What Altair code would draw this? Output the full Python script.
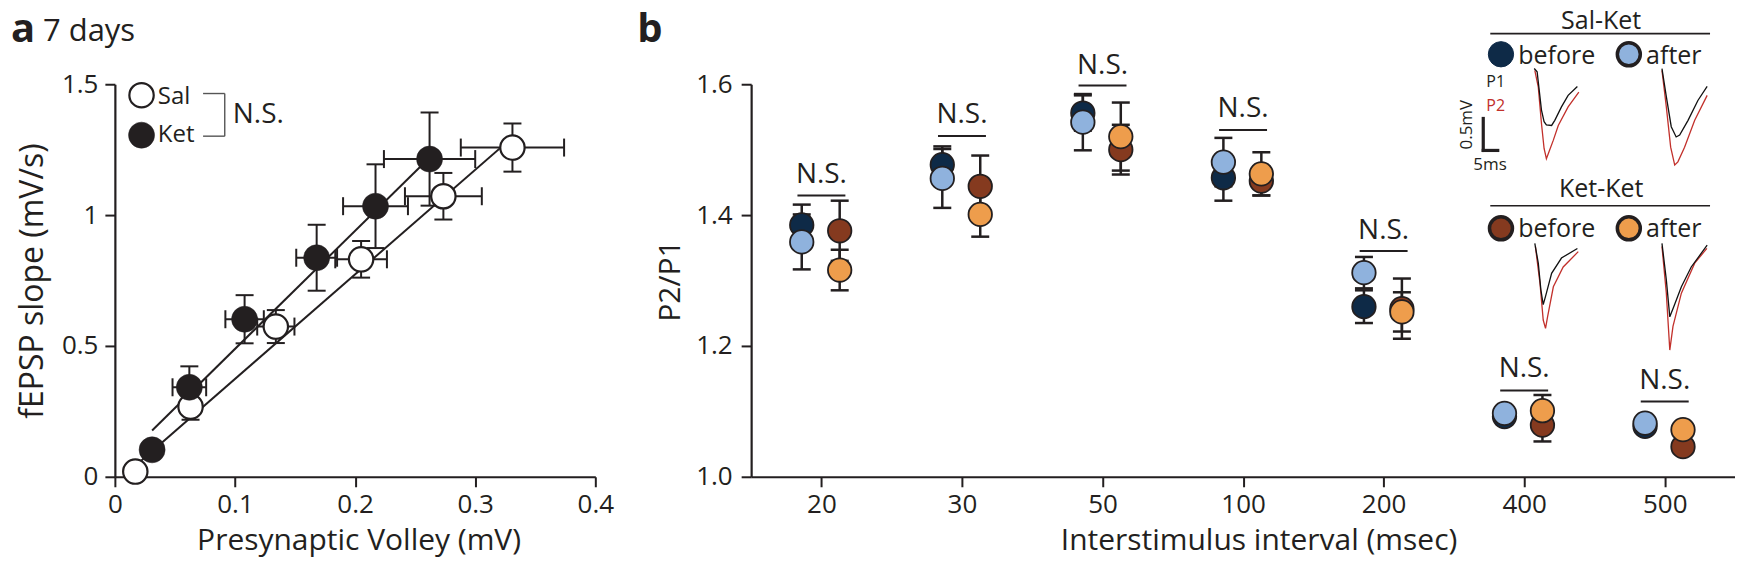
import altair as alt
import pandas as pd

FONT = "Open Sans"
INK = "#231f20"
RED = "#c2302b"

# ---------------- panel a : input-output ----------------
sal_pv = [0.017, 0.063, 0.134, 0.205, 0.2735, 0.331]
sal_pv_sem = [0.0, 0.005, 0.0155, 0.0215, 0.032, 0.043]
sal_slope = [0.020, 0.268, 0.574, 0.831, 1.072, 1.258]
sal_slope_sem = [0.0, 0.05, 0.063, 0.07, 0.089, 0.092]

ket_pv = [0.031, 0.062, 0.108, 0.168, 0.217, 0.262]
ket_pv_sem = [0.0, 0.014, 0.016, 0.017, 0.027, 0.038]
ket_slope = [0.103, 0.342, 0.602, 0.837, 1.034, 1.214]
ket_slope_sem = [0.0, 0.08, 0.092, 0.126, 0.16, 0.178]

sal_fit_pv = [0.019, 0.331]
sal_fit_slope = [0.05, 1.297]
ket_fit_pv = [0.031, 0.2585]
ket_fit_slope = [0.177, 1.204]

# ---------------- panel b : paired-pulse ratio ----------------
intervals = ["20", "30", "50", "100", "200", "400", "500"]
salket_before = [1.385, 1.477, 1.556, 1.457, 1.260, 1.092, 1.077]
salket_before_sem = [0.031, 0.028, 0.027, 0.035, 0.025, 0.005, 0.004]
salket_after = [1.359, 1.456, 1.542, 1.481, 1.312, 1.097, 1.082]
salket_after_sem = [0.042, 0.045, 0.043, 0.037, 0.024, 0.006, 0.005]
ketket_before = [1.376, 1.444, 1.500, 1.452, 1.257, 1.079, 1.046]
ketket_before_sem = [0.046, 0.047, 0.038, 0.022, 0.046, 0.025, 0.008]
ketket_after = [1.316, 1.401, 1.520, 1.463, 1.252, 1.101, 1.072]
ketket_after_sem = [0.031, 0.034, 0.052, 0.033, 0.030, 0.024, 0.008]
ns_bar_level = [1.430, 1.521, 1.598, 1.530, 1.345, 1.132, 1.115]
ns_text_level = [1.449, 1.540, 1.616, 1.550, 1.364, 1.153, 1.134]

series_names = ["Sal-Ket before", "Sal-Ket after", "Ket-Ket before", "Ket-Ket after"]
series_colors = ["#0e2a47", "#8fb2dd", "#853a1f", "#ee9d4c"]

# example traces (time in ms, amplitude in mV)
sk_before_p1_t = [0, 1.0, 2.5, 3.4, 4.2, 6.0, 7.1, 9.4, 11.7, 14.9]
sk_before_p1_mv = [0, -0.05, -0.65, -0.83, -0.88, -0.89, -0.81, -0.60, -0.42, -0.28]
sk_before_p2_t = [0.2, 1.4, 2.5, 3.4, 4.2, 5.1, 6.6, 8.3, 11.7, 15.4]
sk_before_p2_mv = [-0.03, -0.29, -0.86, -1.25, -1.41, -1.30, -1.12, -0.89, -0.60, -0.37]
sk_after_p1_t = [0, 1.5, 3.2, 4.9, 6.1, 9.0, 12.4, 15.6]
sk_after_p1_mv = [0, -0.44, -0.91, -1.07, -1.04, -0.81, -0.50, -0.28]
sk_after_p2_t = [0, 1.5, 3.0, 4.4, 5.5, 7.8, 11.3, 15.6]
sk_after_p2_mv = [-0.03, -0.60, -1.23, -1.51, -1.46, -1.23, -0.81, -0.42]
kk_before_p1_t = [0.2, 1.4, 2.3, 3.1, 3.9, 6.0, 9.4, 14.9]
kk_before_p1_mv = [0, -0.31, -0.73, -0.96, -0.83, -0.47, -0.23, -0.08]
kk_before_p2_t = [0.4, 2.0, 3.1, 3.9, 4.6, 6.6, 10.0, 15.2]
kk_before_p2_mv = [-0.05, -0.63, -1.20, -1.33, -1.15, -0.68, -0.37, -0.13]
kk_after_p1_t = [0, 1.5, 2.7, 4.1, 6.7, 10.1, 15.6]
kk_after_p1_mv = [0, -0.57, -1.15, -0.99, -0.68, -0.37, -0.03]
kk_after_p2_t = [0, 1.5, 2.7, 3.8, 6.7, 11.3, 15.5]
kk_after_p2_mv = [-0.05, -0.78, -1.67, -1.30, -0.78, -0.31, -0.08]

# ---------------- tables ----------------
def group_df(name, pv, pv_sem, sl, sl_sem):
    d = pd.DataFrame({"pv": pv, "pv_sem": pv_sem, "slope": sl, "slope_sem": sl_sem})
    d["group"] = name
    d["pv_lo"] = d.pv - d.pv_sem
    d["pv_hi"] = d.pv + d.pv_sem
    d["sl_lo"] = d.slope - d.slope_sem
    d["sl_hi"] = d.slope + d.slope_sem
    return d

df_a = pd.concat([group_df("Sal", sal_pv, sal_pv_sem, sal_slope, sal_slope_sem),
                  group_df("Ket", ket_pv, ket_pv_sem, ket_slope, ket_slope_sem)],
                 ignore_index=True)
df_fit = pd.concat([pd.DataFrame({"pv": sal_fit_pv, "slope": sal_fit_slope, "group": "Sal"}),
                    pd.DataFrame({"pv": ket_fit_pv, "slope": ket_fit_slope, "group": "Ket"})],
                   ignore_index=True)

OFFSET = {"Sal-Ket": -0.14, "Ket-Ket": 0.13}
rows = []
for name, vals, sems in zip(series_names,
                            [salket_before, salket_after, ketket_before, ketket_after],
                            [salket_before_sem, salket_after_sem, ketket_before_sem, ketket_after_sem]):
    grp = name.split(" ")[0]
    for i, (v, s) in enumerate(zip(vals, sems)):
        rows.append({"series": name, "idx": i, "xpos": i + OFFSET[grp], "ppr": v,
                     "lo": v - s, "hi": v + s})
df_b = pd.DataFrame(rows)
df_ns = pd.DataFrame({"idx": list(range(len(intervals))), "bar": ns_bar_level, "txt": ns_text_level})

COL_MS = 44.1   # horizontal spacing of the two trace columns (ms)
ROW_MV = 2.734  # vertical spacing of the two trace rows (mV)
trace_list = [
    ("sk_b_p1", "P1", 0, 0, sk_before_p1_t, sk_before_p1_mv),
    ("sk_b_p2", "P2", 0, 0, sk_before_p2_t, sk_before_p2_mv),
    ("sk_a_p1", "P1", 1, 0, sk_after_p1_t, sk_after_p1_mv),
    ("sk_a_p2", "P2", 1, 0, sk_after_p2_t, sk_after_p2_mv),
    ("kk_b_p1", "P1", 0, 1, kk_before_p1_t, kk_before_p1_mv),
    ("kk_b_p2", "P2", 0, 1, kk_before_p2_t, kk_before_p2_mv),
    ("kk_a_p1", "P1", 1, 1, kk_after_p1_t, kk_after_p1_mv),
    ("kk_a_p2", "P2", 1, 1, kk_after_p2_t, kk_after_p2_mv),
]
trows = []
for tid, pulse, col, row, ts, vs in trace_list:
    for k, (t, v) in enumerate(zip(ts, vs)):
        trows.append({"trace": tid, "pulse": pulse, "i": k,
                      "tx": t + col * COL_MS, "vy": v - row * ROW_MV})
df_tr = pd.DataFrame(trows)

ONE = pd.DataFrame({"k": [0]})


# ---------------- helpers ----------------
def txt(s, x, y, size, color=INK, align="left", baseline="alphabetic", weight="normal", angle=0):
    return alt.Chart(ONE).mark_text(text=s, font=FONT, fontSize=size, color=color, align=align,
                                    baseline=baseline, fontWeight=weight, angle=angle).encode(
        x=alt.value(x), y=alt.value(y))


def seg(x1, y1, x2, y2, width=1.5, color=INK, opacity=1):
    return alt.Chart(ONE).mark_rule(color=color, strokeWidth=width, strokeOpacity=opacity,
                                    opacity=opacity).encode(
        x=alt.value(x1), x2=alt.value(x2), y=alt.value(y1), y2=alt.value(y2))


def dot(x, y, size, fill, stroke=INK, sw=1.5):
    return alt.Chart(ONE).mark_point(shape="circle", filled=True, fill=fill, stroke=stroke,
                                     strokeWidth=sw, size=size, opacity=1).encode(
        x=alt.value(x), y=alt.value(y))


# ---------------- panel a ----------------
xa = alt.Scale(domain=[0, 0.4], nice=False, zero=False)
ya = alt.Scale(domain=[0, 1.5], nice=False, zero=False)
axa_x = alt.Axis(values=[0, 0.1, 0.2, 0.3, 0.4], format="~g", title="Presynaptic Volley (mV)",
                 titleX=244, titleY=72.5, titleBaseline="alphabetic", labelFlush=False, labelPadding=5)
axa_y = alt.Axis(values=[0, 0.5, 1, 1.5], format="~g", title="fEPSP slope (mV/s)",
                 titleX=-72, titleBaseline="alphabetic", titleFontSize=32,
                 labelFlush=False, labelPadding=7)


def AX(f):
    return alt.X(f"{f}:Q", scale=xa, axis=axa_x)


def AY(f):
    return alt.Y(f"{f}:Q", scale=ya, axis=axa_y)


base_a = alt.Chart(df_a)
xe = base_a.transform_filter("datum.pv_sem > 0")
ye = base_a.transform_filter("datum.slope_sem > 0")

a_layers = [
    xe.mark_rule(color=INK, strokeWidth=2).encode(x=AX("pv_lo"), x2="pv_hi", y=AY("slope")),
    xe.mark_tick(orient="vertical", size=18, thickness=2, color=INK, opacity=1).encode(x=AX("pv_lo"), y=AY("slope")),
    xe.mark_tick(orient="vertical", size=18, thickness=2, color=INK, opacity=1).encode(x=AX("pv_hi"), y=AY("slope")),
    ye.mark_rule(color=INK, strokeWidth=2).encode(x=AX("pv"), y=AY("sl_lo"), y2="sl_hi"),
    ye.mark_tick(orient="horizontal", size=18, thickness=2, color=INK, opacity=1).encode(x=AX("pv"), y=AY("sl_lo")),
    ye.mark_tick(orient="horizontal", size=18, thickness=2, color=INK, opacity=1).encode(x=AX("pv"), y=AY("sl_hi")),
    alt.Chart(df_fit).mark_line(color=INK, strokeWidth=2).encode(x=AX("pv"), y=AY("slope"), detail="group:N"),
    base_a.transform_filter("datum.group == 'Sal'").mark_point(
        shape="circle", filled=True, fill="white", stroke=INK, strokeWidth=2.2, size=595, opacity=1).encode(
        x=AX("pv"), y=AY("slope")),
    base_a.transform_filter("datum.group == 'Ket'").mark_point(
        shape="circle", filled=True, fill=INK, stroke=INK, strokeWidth=0.5, size=680, opacity=1).encode(
        x=AX("pv"), y=AY("slope")),
    # legend
    dot(26.7, 11, 595, "white", INK, 2.2),
    dot(26.7, 51, 680, INK, INK, 0.5),
    txt("Sal", 43, 19.3, 24),
    txt("Ket", 43, 57.7, 24),
    seg(88.3, 9.3, 110, 9.3, 1.4, "#555555"),
    seg(110, 9.3, 110, 52, 1.4, "#555555"),
    seg(88.3, 52, 110, 52, 1.4, "#555555"),
    txt("N.S.", 118, 39.3, 28),
    # panel heading
    txt("a", -104, -42, 40, weight="bold"),
    txt("7 days", -72, -43, 31),
    # invisible extent anchors (top-left and bottom)
    seg(-107, -76, -107, -76, 1, "#ffffff", 0),
    seg(-107, 475.5, -107, 475.5, 1, "#ffffff", 0),
]
panel_a = alt.layer(*a_layers).properties(width=481, height=393)

# ---------------- panel b ----------------
xb = alt.Scale(domain=[-0.5, 6.5], nice=False, zero=False)
yb = alt.Scale(domain=[1.0, 1.6], nice=False, zero=False)
label_expr = "[" + ",".join(f"'{s}'" for s in intervals) + "][datum.value]"
axb_x = alt.Axis(values=list(range(len(intervals))), labelExpr=label_expr,
                 title="Interstimulus interval (msec)", titleX=508, titleY=72.5,
                 titleBaseline="alphabetic", labelFlush=False, labelPadding=5)
axb_y = alt.Axis(values=[1.0, 1.2, 1.4, 1.6], format=".1f", title="P2/P1", titleX=-72,
                 titleBaseline="alphabetic", labelFlush=False, labelPadding=9)


def BX(f):
    return alt.X(f"{f}:Q", scale=xb, axis=axb_x)


def BY(f):
    return alt.Y(f"{f}:Q", scale=yb, axis=axb_y)


base_b = alt.Chart(df_b)
b_main = [
    base_b.mark_rule(color=INK, strokeWidth=2.5).encode(x=BX("xpos"), y=BY("lo"), y2="hi"),
    base_b.mark_tick(orient="horizontal", size=18, thickness=2.5, color=INK, opacity=1).encode(x=BX("xpos"), y=BY("lo")),
    base_b.mark_tick(orient="horizontal", size=18, thickness=2.5, color=INK, opacity=1).encode(x=BX("xpos"), y=BY("hi")),
    base_b.mark_point(shape="circle", filled=True, stroke=INK, strokeWidth=1.8, size=552, opacity=1).encode(
        x=BX("xpos"), y=BY("ppr"),
        fill=alt.Fill("series:N", scale=alt.Scale(domain=series_names, range=series_colors), legend=None)),
    alt.Chart(df_ns).mark_tick(orient="horizontal", size=48, thickness=2, color=INK, opacity=1).encode(
        x=BX("idx"), y=BY("bar")),
    alt.Chart(df_ns).mark_text(text="N.S.", font=FONT, fontSize=28, color=INK, align="center",
                               baseline="alphabetic").encode(x=BX("idx"), y=BY("txt")),
    # legend / inset labels
    txt("b", -114, -42, 40, weight="bold"),
    txt("Sal-Ket", 851, -55, 25, align="center"),
    seg(740, -50.7, 960, -50.7, 1.6),
    dot(750.7, -30, 640, series_colors[0], series_colors[0], 1),
    txt("before", 768, -20.7, 25),
    dot(878.7, -30, 530, series_colors[1], INK, 3.5),
    txt("after", 896, -20.7, 25),
    txt("Ket-Ket", 851, 112.7, 25, align="center"),
    seg(740, 121.7, 960, 121.7, 1.6),
    dot(750.7, 144.3, 530, series_colors[2], INK, 3.5),
    txt("before", 768, 152.7, 25),
    dot(878.7, 144.3, 530, series_colors[3], INK, 3.5),
    txt("after", 896, 152.7, 25),
    txt("P1", 736, 2.7, 16),
    txt("P2", 736, 27, 16, color=RED),
    txt("0.5mV", 722, 40.5, 17, align="center", angle=270),
    txt("5ms", 723, 86, 17),
]
L1 = alt.layer(*b_main)

tx_scale = alt.Scale(domain=[0, 100], range=[784, 1074], nice=False, zero=False)
vy_scale = alt.Scale(domain=[0, -5], range=[-15.7, 304.3], nice=False, zero=False)
TX = alt.X("tx:Q", scale=tx_scale, axis=None)
VY = alt.Y("vy:Q", scale=vy_scale, axis=None)
tr = alt.Chart(df_tr)
L2 = alt.layer(
    tr.transform_filter("datum.pulse == 'P2'").mark_line(color=RED, strokeWidth=1.3).encode(
        x=TX, y=VY, detail="trace:N", order="i:Q"),
    tr.transform_filter("datum.pulse == 'P1'").mark_line(color="#111111", strokeWidth=1.3).encode(
        x=TX, y=VY, detail="trace:N", order="i:Q"),
    alt.Chart(ONE).mark_rule(color=INK, strokeWidth=3.2, strokeCap="square").encode(
        x=alt.XDatum(-17.6, type="quantitative", axis=None),
        y=alt.YDatum(-0.781, type="quantitative", axis=None),
        y2=alt.Y2Datum(-1.281)),
    alt.Chart(ONE).mark_rule(color=INK, strokeWidth=3.2, strokeCap="square").encode(
        x=alt.XDatum(-17.6, type="quantitative", axis=None),
        x2=alt.X2Datum(-12.6),
        y=alt.YDatum(-1.281, type="quantitative", axis=None)),
)

panel_b = alt.layer(L1, L2).resolve_scale(x="independent", y="independent").properties(width=985, height=393)

chart = alt.hconcat(panel_a, panel_b, spacing=156, bounds="flush").properties(
    padding=0, background="white"
).configure_view(stroke=None).configure_axis(
    grid=False, domainColor=INK, domainWidth=2.2, tickColor=INK, tickWidth=2, tickSize=10,
    labelFont=FONT, labelFontSize=26, labelColor=INK,
    titleFont=FONT, titleFontSize=30, titleColor=INK, titleFontWeight="normal",
)

chart.save("out.html", embed_options={"renderer": "svg", "actions": False})
